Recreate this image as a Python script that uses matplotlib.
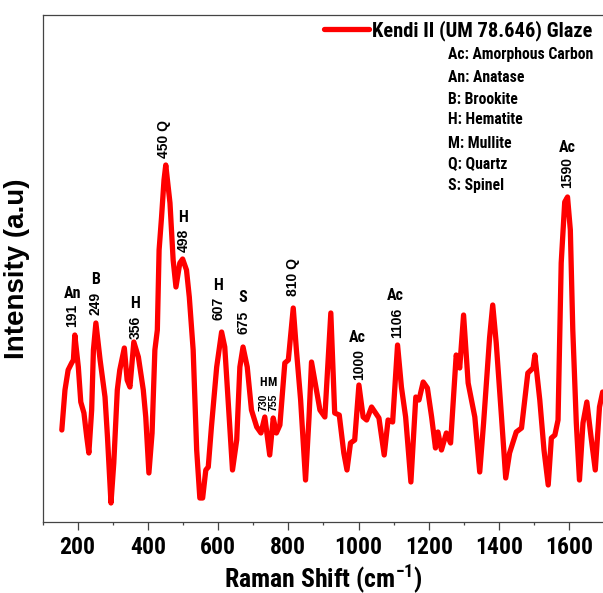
import matplotlib
matplotlib.use("Agg")
import matplotlib.pyplot as plt
from matplotlib import font_manager

# ---------------- data ----------------
wavenumber = [155, 164, 173, 183, 188, 192, 202, 209, 218, 226, 232, 240, 245, 252, 264, 278, 285, 295,
              303, 313, 320, 333, 341, 349, 360, 373, 387, 394, 403, 412, 420, 427, 432, 439, 446, 451,
              463, 472, 480, 491, 499, 510, 518, 529, 539, 548, 556, 565, 572, 581, 596, 610, 619, 629,
              641, 653, 662, 671, 683, 695, 710, 722, 733, 747, 757, 766, 776, 790, 800, 814, 823, 835,
              849, 859, 866, 880, 890, 904, 921, 932, 945, 958, 967, 977, 989, 1001, 1013, 1023, 1037,
              1058, 1073, 1084, 1097, 1111, 1122, 1134, 1149, 1163, 1172, 1184, 1196, 1208, 1219, 1226,
              1236, 1250, 1262, 1278, 1288, 1299, 1312, 1331, 1345, 1356, 1373, 1382, 1392, 1407, 1419,
              1430, 1449, 1464, 1482, 1497, 1502, 1516, 1528, 1540, 1549, 1559, 1568, 1577, 1587, 1595,
              1603, 1610, 1620, 1629, 1639, 1650, 1662, 1674, 1686, 1695]
intensity = [92, 132, 152, 159, 162, 187, 155, 120, 109, 85, 69, 112, 172, 199, 162, 125, 85, 19,
             59, 132, 152, 174, 142, 135, 180, 165, 132, 105, 49, 89, 172, 192, 272, 305, 342, 357,
             319, 262, 235, 259, 263, 252, 225, 172, 72, 24, 24, 52, 55, 95, 155, 190, 175, 119,
             52, 82, 155, 175, 155, 112, 95, 89, 105, 67, 104, 89, 97, 159, 162, 214, 172, 122,
             42, 105, 160, 132, 112, 105, 209, 109, 107, 69, 52, 79, 82, 137, 105, 102, 115,
             104, 67, 102, 100, 177, 135, 105, 40, 125, 122, 140, 134, 105, 74, 90,
             72, 89, 79, 167, 154, 207, 139, 105, 50, 99, 184, 217, 179, 105, 44,
             69, 90, 94, 149, 154, 167, 122, 72, 37, 84, 87, 102, 259, 320, 325,
             292, 192, 99, 42, 99, 120, 85, 52, 115, 130]

series_label = "Kendi II (UM 78.646) Glaze"
phase_key = ["Ac: Amorphous Carbon", "An: Anatase", "B: Brookite", "H: Hematite",
             "M: Mullite", "Q: Quartz", "S: Spinel"]

# peak annotations: (letter, number text)
small_letters = ["An", "B", "H", "H", "S", "H", "M", "Ac", "Ac", "Ac", "H"]
small_numbers = ["191", "249", "356", "607", "675", "730", "755", "1000", "1106", "1590", "498"]
letter_x = [185, 252, 362, 600, 671, 727, 754, 996, 1106, 1595, 499]
letter_y = [229, 242, 219, 237, 225, 140, 140, 185, 226, 375, 305]
number_x = [185, 252, 365, 602, 673, 730, 757, 1001, 1110, 1595, 503]
number_y = [207, 219, 195, 214, 200, 120, 120, 157, 199, 349, 282]
quartz_labels = ["450 Q", "810 Q"]
quartz_x = [447, 813]
quartz_y = [383, 245]

xticks = [200, 400, 600, 800, 1000, 1200, 1400, 1600]

# ---------------- fonts ----------------
def weight_num(w):
    try:
        return int(w)
    except Exception:
        return {"bold": 700, "heavy": 800, "black": 900, "semibold": 600, "demibold": 600}.get(str(w), 400)

bold_names = {f.name for f in font_manager.fontManager.ttflist if weight_num(f.weight) >= 700}
narrow_first = None
for cand in ["Arial Narrow", "Liberation Sans Narrow", "Nimbus Sans Narrow", "Roboto Condensed",
             "Archivo Narrow", "Fira Sans Condensed", "IBM Plex Sans Condensed", "Encode Sans Condensed"]:
    if cand in bold_names:
        narrow_first = cand
        break
NARROW = ([narrow_first] if narrow_first else []) + ["Liberation Sans", "DejaVu Sans"]
WIDE = ["Liberation Sans", "DejaVu Sans"]
plt.rcParams["font.family"] = NARROW
plt.rcParams["mathtext.fontset"] = "custom"
plt.rcParams["mathtext.bf"] = NARROW[0] + ":bold"
plt.rcParams["mathtext.rm"] = NARROW[0] + ":bold"

W, H = 603, 593
fig = plt.figure(figsize=(W / 100, H / 100), dpi=100)
left, right, top, bottom = 42.5, 604.4, 15, 522
ax = fig.add_axes([left / W, 1 - bottom / H, (right - left) / W, (bottom - top) / H])

ax.plot(wavenumber, intensity, color="#ff0000", lw=3.8, solid_joinstyle="round",
        solid_capstyle="round", label=series_label)

ax.set_xlim(100, 1700)
ax.set_ylim(0, 507)
ax.set_yticks([])
ax.set_xticks(xticks)
ax.set_xticks(range(100, 1701, 100), minor=True)
ax.tick_params(axis="x", which="major", direction="out", length=6, width=0.9, color="#444444",
               labelsize=17, pad=4)
ax.tick_params(axis="x", which="minor", direction="out", length=2.5, width=0.9, color="#444444")
for lab in ax.get_xticklabels():
    lab.set_fontweight("bold")
for s in ax.spines.values():
    s.set_color("#444444")
    s.set_linewidth(0.9)

ax.set_xlabel(r"Raman Shift (cm$^{\mathbf{-1}}$)", fontsize=18.5, fontweight="bold", labelpad=3)
ax.set_ylabel("Intensity (a.u)", fontsize=20, fontweight="bold", family=WIDE, labelpad=9)

leg = ax.legend(loc="upper left", bbox_to_anchor=(324 / W, 1 - 20 / H), bbox_transform=fig.transFigure,
                frameon=False, prop={"size": 14.8, "weight": "bold"}, handlelength=2.2,
                handletextpad=0.15, borderpad=0, borderaxespad=0)
leg.get_lines()[0].set_linewidth(3.8)

row_y = [55, 77, 99, 120, 143, 164, 185]
for txt, yy in zip(phase_key, row_y):
    fig.text(448 / W, 1 - yy / H, txt, fontsize=11.3, fontweight="bold", ha="left", va="center")

for l, n, lx, ly, nx, ny in zip(small_letters, small_numbers, letter_x, letter_y, number_x, number_y):
    sz = 8 if n in ("730", "755") else 10.5
    ax.text(lx, ly, l, fontsize=sz * 1.1, fontweight="bold", ha="center", va="center")
    ax.text(nx, ny, n, fontsize=sz * 0.95, fontweight="bold", ha="center", va="center",
            rotation=90, family=WIDE)
for q, qx, qy in zip(quartz_labels, quartz_x, quartz_y):
    ax.text(qx, qy, q, fontsize=10, fontweight="bold", ha="center", va="center", rotation=90, family=WIDE)

fig.savefig("out.png", dpi=100)
